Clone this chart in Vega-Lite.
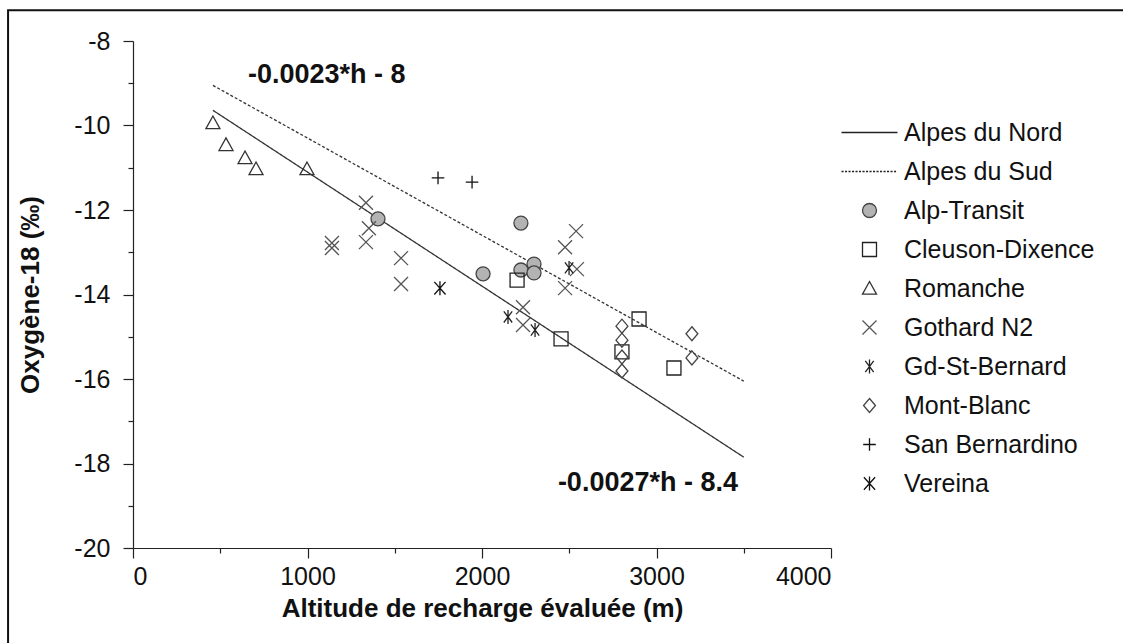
{
  "$schema": "https://vega.github.io/schema/vega-lite/v6.json",
  "width": 698,
  "height": 507,
  "autosize": {"type": "none"},
  "padding": {"left": 133, "top": 41, "right": 292, "bottom": 95},
  "background": "white",
  "config": {
    "view": {"stroke": null},
    "font": "Liberation Sans",
    "axis": {"labelFont": "Liberation Sans", "titleFont": "Liberation Sans", "labelColor": "#111", "titleColor": "#111", "domainColor": "#222", "tickColor": "#222", "grid": false, "domainWidth": 1.2, "tickWidth": 1.2}
  },
  "datasets": {
    "points": [
      {"site": "Alp-Transit", "h": 1404, "o18": -12.21},
      {"site": "Alp-Transit", "h": 2223, "o18": -12.31},
      {"site": "Alp-Transit", "h": 2006, "o18": -13.51},
      {"site": "Alp-Transit", "h": 2223, "o18": -13.42},
      {"site": "Alp-Transit", "h": 2298, "o18": -13.28},
      {"site": "Alp-Transit", "h": 2298, "o18": -13.49},
      {"site": "Cleuson-Dixence", "h": 2201, "o18": -13.66},
      {"site": "Cleuson-Dixence", "h": 2453, "o18": -15.05},
      {"site": "Cleuson-Dixence", "h": 2900, "o18": -14.58},
      {"site": "Cleuson-Dixence", "h": 2802, "o18": -15.36},
      {"site": "Cleuson-Dixence", "h": 3100, "o18": -15.74},
      {"site": "Romanche", "h": 458, "o18": -9.94},
      {"site": "Romanche", "h": 533, "o18": -10.46},
      {"site": "Romanche", "h": 642, "o18": -10.77},
      {"site": "Romanche", "h": 705, "o18": -11.03},
      {"site": "Romanche", "h": 997, "o18": -11.03},
      {"site": "Gothard N2", "h": 1335, "o18": -11.83},
      {"site": "Gothard N2", "h": 1352, "o18": -12.43},
      {"site": "Gothard N2", "h": 1335, "o18": -12.76},
      {"site": "Gothard N2", "h": 1140, "o18": -12.78},
      {"site": "Gothard N2", "h": 1140, "o18": -12.9},
      {"site": "Gothard N2", "h": 1536, "o18": -13.14},
      {"site": "Gothard N2", "h": 1536, "o18": -13.75},
      {"site": "Gothard N2", "h": 2539, "o18": -12.5},
      {"site": "Gothard N2", "h": 2476, "o18": -12.88},
      {"site": "Gothard N2", "h": 2544, "o18": -13.4},
      {"site": "Gothard N2", "h": 2476, "o18": -13.85},
      {"site": "Gothard N2", "h": 2235, "o18": -14.3},
      {"site": "Gothard N2", "h": 2235, "o18": -14.72},
      {"site": "Gd-St-Bernard", "h": 2499, "o18": -13.37},
      {"site": "Gd-St-Bernard", "h": 2149, "o18": -14.53},
      {"site": "Gd-St-Bernard", "h": 2304, "o18": -14.84},
      {"site": "Mont-Blanc", "h": 2802, "o18": -14.75},
      {"site": "Mont-Blanc", "h": 2802, "o18": -15.08},
      {"site": "Mont-Blanc", "h": 2802, "o18": -15.48},
      {"site": "Mont-Blanc", "h": 2802, "o18": -15.81},
      {"site": "Mont-Blanc", "h": 3203, "o18": -14.93},
      {"site": "Mont-Blanc", "h": 3203, "o18": -15.5},
      {"site": "San Bernardino", "h": 1748, "o18": -11.24},
      {"site": "San Bernardino", "h": 1943, "o18": -11.34},
      {"site": "Vereina", "h": 1759, "o18": -13.85}
    ],
    "lines": [
      {"serie": "Alpes du Nord", "h": 458, "o18": -9.64},
      {"serie": "Alpes du Nord", "h": 3500, "o18": -17.85},
      {"serie": "Alpes du Sud", "h": 458, "o18": -9.05},
      {"serie": "Alpes du Sud", "h": 3500, "o18": -16.05}
    ],
    "one": [{"k": 1}]
  },
  "layer": [
    {
      "data": {"name": "one"},
      "mark": {"type": "rect", "fill": "transparent", "stroke": "#111", "strokeWidth": 2, "clip": false},
      "encoding": {
        "x": {"datum": -716, "type": "quantitative", "scale": {"domain": [0, 4000], "nice": false}, "axis": null},
        "x2": {"datum": 6000},
        "y": {"datum": -7.27, "type": "quantitative", "scale": {"domain": [-20, -8], "nice": false}, "axis": null},
        "y2": {"datum": -23}
      }
    },
    {
      "data": {"name": "lines"},
      "mark": {"type": "line", "color": "#333", "strokeWidth": 1.3},
      "encoding": {
        "x": {"field": "h", "type": "quantitative", "scale": {"domain": [0, 4000], "nice": false},
              "axis": {"orient": "bottom", "values": [500, 1500, 2500, 3500], "tickSize": 5, "labels": false, "domain": false, "title": null}},
        "y": {"field": "o18", "type": "quantitative", "scale": {"domain": [-20, -8], "nice": false},
              "axis": {"orient": "left", "values": [-19, -17, -15, -13, -11, -9], "tickSize": 5, "labels": false, "domain": false, "title": null}},
        "strokeDash": {"field": "serie", "type": "nominal", "scale": {"domain": ["Alpes du Nord", "Alpes du Sud"], "range": [[1, 0], [3, 2]]}, "legend": null}
      }
    },
    {
      "data": {"name": "points"},
      "mark": {"type": "point", "size": 196, "strokeWidth": 1.3, "opacity": 1},
      "encoding": {
        "x": {"field": "h", "type": "quantitative", "scale": {"domain": [0, 4000], "nice": false},
              "axis": {"orient": "bottom", "values": [0, 1000, 2000, 3000, 4000], "format": "d", "tickSize": 10, "labelFontSize": 25, "labelPadding": 6, "title": "Altitude de recharge évaluée (m)", "titleFontSize": 26, "titleFontWeight": "bold", "titlePadding": 6}},
        "y": {"field": "o18", "type": "quantitative", "scale": {"domain": [-20, -8], "nice": false},
              "axis": {"orient": "left", "values": [-20, -18, -16, -14, -12, -10, -8], "labelExpr": "'' + datum.value", "tickSize": 10, "labelFontSize": 25, "labelPadding": 13, "title": "Oxygène-18 (‰)", "titleFontSize": 26, "titleFontWeight": "bold", "titlePadding": 30}},
        "shape": {"field": "site", "type": "nominal",
          "scale": {"domain": ["Alpes du Nord", "Alpes du Sud", "Alp-Transit", "Cleuson-Dixence", "Romanche", "Gothard N2", "Gd-St-Bernard", "Mont-Blanc", "San Bernardino", "Vereina"],
            "range": ["M-4,0H4", "M-4,0H-3.7M-3.5,0H-3.2M-3,0H-2.7M-2.5,0H-2.2M-2,0H-1.7M-1.5,0H-1.2M-1,0H-0.7M-0.5,0H-0.2M0,0H0.3M0.5,0H0.8M1,0H1.3M1.5,0H1.8M2,0H2.3M2.5,0H2.8M3,0H3.3M3.5,0H3.8", "circle", "square", "M0,-1L1,0.8L-1,0.8Z", "M-1,-1L1,1M-1,1L1,-1", "M-0.6,-0.8L0.6,0.8M-0.6,0.8L0.6,-0.8M0,-1V1", "M0,-1L0.85,0L0,1L-0.85,0Z", "M-0.9,0H0.9M0,-0.9V0.9", "M-0.8,-0.9L0.8,0.9M-0.8,0.9L0.8,-0.9M0,-1V1"]},
          "legend": {"orient": "none", "legendX": 724, "legendY": 79, "title": null, "padding": 0, "labelFontSize": 25, "labelFont": "Liberation Sans", "labelColor": "#111", "labelLimit": 400, "symbolSize": 196, "symbolStrokeWidth": 1.3, "labelOffset": 22, "rowPadding": 13}},
        "fill": {"field": "site", "type": "nominal",
          "scale": {"domain": ["Alpes du Nord", "Alpes du Sud", "Alp-Transit", "Cleuson-Dixence", "Romanche", "Gothard N2", "Gd-St-Bernard", "Mont-Blanc", "San Bernardino", "Vereina"],
            "range": ["transparent", "transparent", "#b3b3b3", "transparent", "transparent", "transparent", "transparent", "transparent", "transparent", "transparent"]},
          "legend": {"orient": "none", "legendX": 724, "legendY": 79, "title": null, "padding": 0, "labelFontSize": 25, "labelFont": "Liberation Sans", "labelColor": "#111", "labelLimit": 400, "symbolSize": 196, "symbolStrokeWidth": 1.3, "labelOffset": 22, "rowPadding": 13}},
        "stroke": {"field": "site", "type": "nominal",
          "scale": {"domain": ["Alpes du Nord", "Alpes du Sud", "Alp-Transit", "Cleuson-Dixence", "Romanche", "Gothard N2", "Gd-St-Bernard", "Mont-Blanc", "San Bernardino", "Vereina"],
            "range": ["#222", "#222", "#444", "#222", "#333", "#555", "#222", "#444", "#111", "#111"]},
          "legend": {"orient": "none", "legendX": 724, "legendY": 79, "title": null, "padding": 0, "labelFontSize": 25, "labelFont": "Liberation Sans", "labelColor": "#111", "labelLimit": 400, "symbolSize": 196, "symbolStrokeWidth": 1.3, "labelOffset": 22, "rowPadding": 13}}
      }
    },
    {
      "data": {"name": "one"},
      "mark": {"type": "text", "align": "left", "baseline": "middle", "fontSize": 27, "fontWeight": "bold", "font": "Liberation Sans", "color": "#111"},
      "encoding": {
        "x": {"datum": 659, "type": "quantitative", "scale": {"domain": [0, 4000], "nice": false}, "axis": null},
        "y": {"datum": -8.8, "type": "quantitative", "scale": {"domain": [-20, -8], "nice": false}, "axis": null},
        "text": {"value": "-0.0023*h - 8"}
      }
    },
    {
      "data": {"name": "one"},
      "mark": {"type": "text", "align": "right", "baseline": "middle", "fontSize": 27, "fontWeight": "bold", "font": "Liberation Sans", "color": "#111"},
      "encoding": {
        "x": {"datum": 3467, "type": "quantitative", "scale": {"domain": [0, 4000], "nice": false}, "axis": null},
        "y": {"datum": -18.45, "type": "quantitative", "scale": {"domain": [-20, -8], "nice": false}, "axis": null},
        "text": {"value": "-0.0027*h - 8.4"}
      }
    }
  ],
  "resolve": {"axis": {"x": "independent", "y": "independent"}}
}
